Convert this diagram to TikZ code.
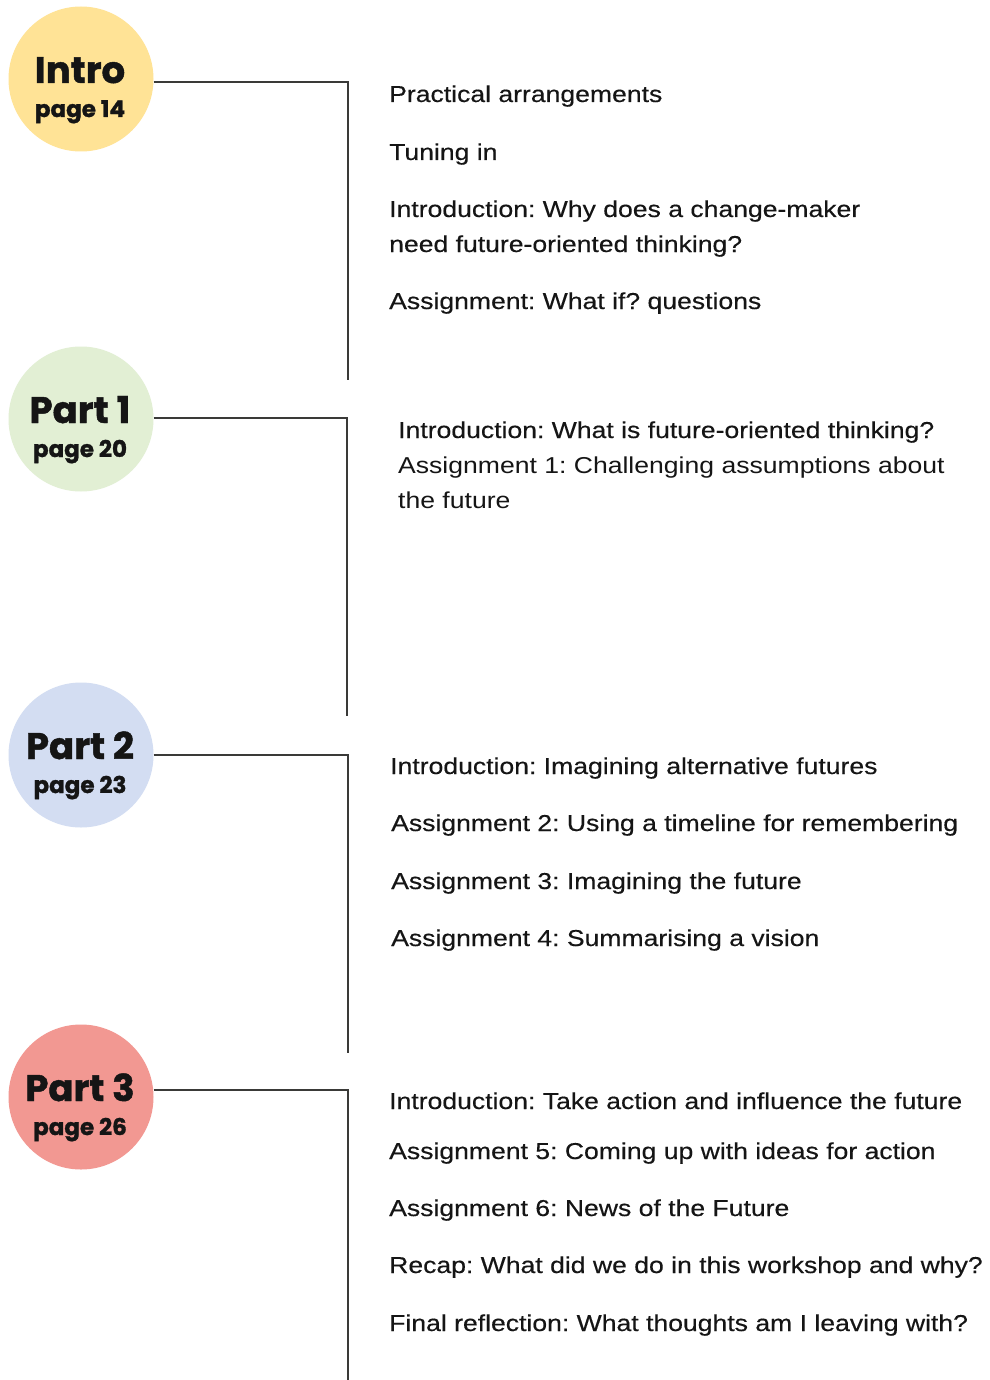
\documentclass[tikz,border=0pt]{standalone}
\usepackage{fontspec}
\setmainfont{Liberation Sans}[FakeStretch=1.155]
\newfontfamily\medfont{Liberation Sans}[FakeStretch=1.155,FakeBold=0.35]
\newfontfamily\headfont{Poppins}[BoldFeatures={FakeBold=1.2}]
\definecolor{ink}{HTML}{151515}
\definecolor{rule}{HTML}{3A3A38}
\definecolor{cintro}{HTML}{FFE396}
\definecolor{cone}{HTML}{E2EFD4}
\definecolor{ctwo}{HTML}{D3DDF2}
\definecolor{cthree}{HTML}{F29892}
\frenchspacing
\begin{document}
\begin{tikzpicture}[x=1pt,y=-1pt,
  disc/.style={circle,minimum size=145pt,inner sep=0pt,draw=none},
  title/.style={anchor=base,inner sep=0pt,font=\headfont\bfseries\fontsize{37}{40}\selectfont,text=ink},
  pageno/.style={anchor=base,inner sep=0pt,font=\headfont\bfseries\fontsize{23}{26}\selectfont,text=ink},
  item/.style={anchor=base west,inner sep=0pt,font=\medfont\fontsize{23}{26}\selectfont,text=ink},
  itemlight/.style={anchor=base west,inner sep=0pt,font=\fontsize{23}{26}\selectfont,text=ink},
  link/.style={draw=rule,line width=1.3pt}]
\useasboundingbox[fill=white] (0,0) rectangle (989,1380);

% section discs with their headings
\node[disc,fill=cintro] (intro) at (81,79) {};
\node[title] (introT) at (80,83) {Intro};
\node[pageno] (introP) at (80,117) {page 14};

\node[disc,fill=cone] (one) at (81,419) {};
\node[title] (oneT) at (80,423) {Part 1};
\node[pageno] (oneP) at (80,457) {page 20};

\node[disc,fill=ctwo] (two) at (81,755) {};
\node[title] (twoT) at (80,759) {Part 2};
\node[pageno] (twoP) at (80,793) {page 23};

\node[disc,fill=cthree] (three) at (81,1097) {};
\node[title] (threeT) at (80,1101) {Part 3};
\node[pageno] (threeP) at (80,1135) {page 26};

% connectors: out to the right, then down
\coordinate (introK) at (348,82);  \coordinate (introE) at (348,380);
\coordinate (oneK) at (347,418);   \coordinate (oneE) at (347,716);
\coordinate (twoK) at (348,755);   \coordinate (twoE) at (348,1053);
\coordinate (threeK) at (348,1090);\coordinate (threeE) at (348,1380);
\draw[link] (intro.east |- introK) -- (introK) -- (introE);
\draw[link] (one.east |- oneK) -- (oneK) -- (oneE);
\draw[link] (two.east |- twoK) -- (twoK) -- (twoE);
\draw[link] (three.east |- threeK) -- (threeK) -- (threeE);

% Intro items
\node[item] (i1) at (389,102) {Practical arrangements};
\node[item] (i2) at (389,160) {Tuning in};
\node[item] (i3) at (389,217) {Introduction: Why does a change-maker};
\node[item] (i3b) at (389,252) {need future-oriented thinking?};
\node[item] (i4) at (389,309) {Assignment: What if? questions};

% Part 1 items
\node[item] (a1) at (398,438) {Introduction: What is future-oriented thinking?};
\node[itemlight] (a2) at (398,473) {Assignment 1: Challenging assumptions about};
\node[itemlight] (a2b) at (398,508) {the future};

% Part 2 items
\node[item] (b1) at (390,774) {Introduction: Imagining alternative futures};
\node[item] (b2) at (391,831) {Assignment 2: Using a timeline for remembering};
\node[item] (b3) at (391,889) {Assignment 3: Imagining the future};
\node[item] (b4) at (391,946) {Assignment 4: Summarising a vision};

% Part 3 items
\node[item] (c1) at (389,1109) {Introduction: Take action and influence the future};
\node[item] (c2) at (389,1159) {Assignment 5: Coming up with ideas for action};
\node[item] (c3) at (389,1216) {Assignment 6: News of the Future};
\node[item] (c4) at (389,1273) {Recap: What did we do in this workshop and why?};
\node[item] (c5) at (389,1331) {Final reflection: What thoughts am I leaving with?};
\end{tikzpicture}
\end{document}
